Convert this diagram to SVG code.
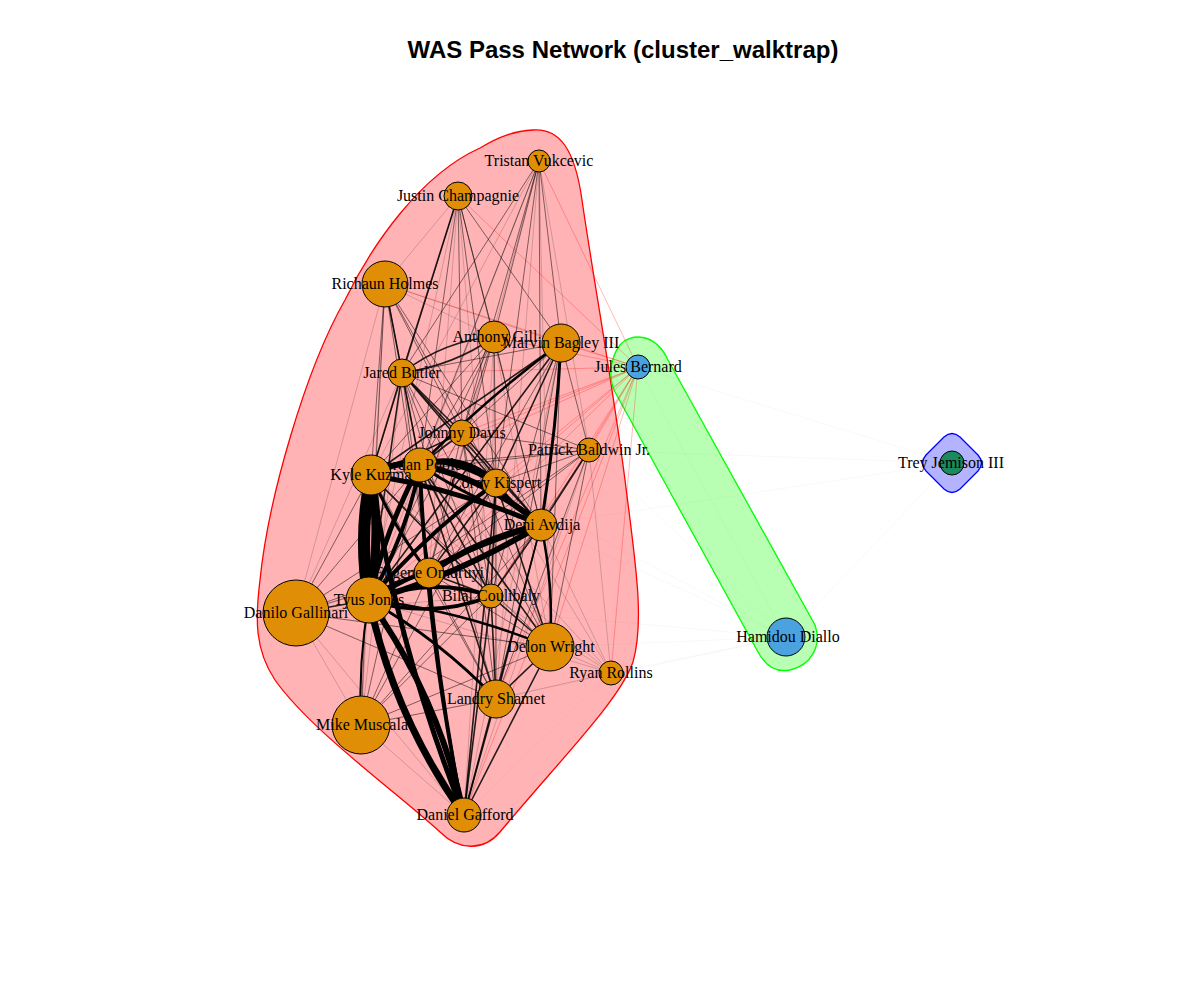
<svg xmlns="http://www.w3.org/2000/svg" width="1200" height="1000" viewBox="0 0 1200 1000">
<style>
.bg{fill:#fff}
.title{font-family:"Liberation Sans",Arial,sans-serif;font-weight:bold;font-size:24px;text-anchor:middle;fill:#000}
.lbl{font-family:"Liberation Serif","Times New Roman",serif;font-size:16px;text-anchor:middle;fill:#000}
.n{stroke:#000;stroke-width:1}
.c1{fill:#DF8E06}.c2{fill:#4AA3DF}.c3{fill:#1C8A5E}
#edges line,#edges path{fill:none;stroke-linecap:round}
.t1{stroke:#000;stroke-opacity:.22;stroke-width:.8}
.t2{stroke:#000;stroke-opacity:.5;stroke-width:1}
.t3{stroke:#000;stroke-opacity:.85;stroke-width:1.6}
.r1{stroke:#f00;stroke-opacity:.3;stroke-width:.9}
.f{stroke:#000;stroke-opacity:.04;stroke-width:.8}
.k{stroke:#000}
</style>
<rect class="bg" x="0" y="0" width="1200" height="1000"/>
<text class="title" x="623" y="58">WAS Pass Network (cluster_walktrap)</text>
<g id="hulls">
<path d="M533,130 C560,128 575,150 582,200 C592,270 612,380 625,480 C635,560 645,620 633,662 C620,700 560,760 500,832 C485,850 460,852 440,832 C400,795 310,730 275,680 C255,650 255,620 260,580 C268,500 305,370 345,300 C372,245 420,175 480,148 C500,136 515,131 533,130 Z" fill="#FFB3B5" stroke="#FF0000" stroke-width="1.3"/>
<path d="M620,345 C630,333 655,332 668,360 L815,625 C822,645 812,665 790,670 C775,673 765,665 758,652 L615,392 C608,378 610,358 620,345 Z" fill="#B8FFB3" stroke="#00FF00" stroke-width="1.3"/>
<path d="M944,437 Q952,430 960,437 L978,455 Q985,463 978,471 L960,489 Q952,496 944,489 L926,471 Q919,463 926,455 Z" fill="#B3B3FF" stroke="#0000FF" stroke-width="1.3"/>
</g>
<g id="edges">
<line class="f" x1="952" y1="463" x2="638" y2="367"/>
<line class="f" x1="952" y1="463" x2="589" y2="450"/>
<line class="f" x1="952" y1="463" x2="541" y2="525"/>
<line class="f" x1="952" y1="463" x2="786" y2="637"/>
<line class="f" x1="786" y1="637" x2="541" y2="525"/>
<line class="f" x1="786" y1="637" x2="550" y2="647"/>
<line class="f" x1="786" y1="637" x2="589" y2="450"/>
<line class="f" x1="786" y1="637" x2="496" y2="483"/>
<line class="f" x1="786" y1="637" x2="496" y2="699"/>
<line class="f" x1="786" y1="637" x2="611" y2="673"/>
<line class="f" x1="786" y1="637" x2="638" y2="367"/>
<line class="f" x1="786" y1="637" x2="369" y2="600"/>
<line class="f" x1="611" y1="673" x2="464" y2="815"/>
<line class="r1" x1="638" y1="367" x2="561" y2="343"/>
<line class="r1" x1="638" y1="367" x2="494" y2="337"/>
<line class="r1" x1="638" y1="367" x2="402" y2="373"/>
<line class="r1" x1="638" y1="367" x2="462" y2="433"/>
<line class="r1" x1="638" y1="367" x2="589" y2="450"/>
<line class="r1" x1="638" y1="367" x2="420" y2="465"/>
<line class="r1" x1="638" y1="367" x2="371" y2="475"/>
<line class="r1" x1="638" y1="367" x2="496" y2="483"/>
<line class="r1" x1="638" y1="367" x2="541" y2="525"/>
<line class="r1" x1="638" y1="367" x2="369" y2="600"/>
<line class="r1" x1="638" y1="367" x2="550" y2="647"/>
<line class="r1" x1="638" y1="367" x2="611" y2="673"/>
<line class="r1" x1="638" y1="367" x2="539" y2="161"/>
<line class="r1" x1="638" y1="367" x2="458" y2="196"/>
<line class="r1" x1="638" y1="367" x2="385" y2="284"/>
<line class="r1" x1="638" y1="367" x2="429" y2="573"/>
<line class="r1" x1="638" y1="367" x2="491" y2="596"/>
<line class="r1" x1="638" y1="367" x2="496" y2="699"/>
<line class="r1" x1="638" y1="367" x2="464" y2="815"/>
<line class="t2" x1="539" y1="161" x2="402" y2="373"/>
<line class="t2" x1="539" y1="161" x2="462" y2="433"/>
<line class="t2" x1="539" y1="161" x2="420" y2="465"/>
<line class="t1" x1="539" y1="161" x2="371" y2="475"/>
<line class="t2" x1="539" y1="161" x2="496" y2="483"/>
<line class="t2" x1="539" y1="161" x2="541" y2="525"/>
<line class="t1" x1="539" y1="161" x2="369" y2="600"/>
<line class="t2" x1="539" y1="161" x2="561" y2="343"/>
<line class="t2" x1="539" y1="161" x2="494" y2="337"/>
<line class="t1" x1="539" y1="161" x2="550" y2="647"/>
<line class="t1" x1="539" y1="161" x2="429" y2="573"/>
<line class="t1" x1="539" y1="161" x2="496" y2="699"/>
<line class="t1" x1="539" y1="161" x2="589" y2="450"/>
<line class="t3" x1="458" y1="196" x2="402" y2="373"/>
<line class="t2" x1="458" y1="196" x2="462" y2="433"/>
<line class="t2" x1="458" y1="196" x2="420" y2="465"/>
<line class="t2" x1="458" y1="196" x2="371" y2="475"/>
<line class="t2" x1="458" y1="196" x2="496" y2="483"/>
<line class="t2" x1="458" y1="196" x2="541" y2="525"/>
<line class="t1" x1="458" y1="196" x2="369" y2="600"/>
<line class="t2" x1="458" y1="196" x2="494" y2="337"/>
<line class="t2" x1="458" y1="196" x2="561" y2="343"/>
<line class="t1" x1="458" y1="196" x2="429" y2="573"/>
<line class="t1" x1="458" y1="196" x2="491" y2="596"/>
<line class="t1" x1="458" y1="196" x2="385" y2="284"/>
<line class="t3" x1="385" y1="284" x2="402" y2="373"/>
<line class="t2" x1="385" y1="284" x2="371" y2="475"/>
<line class="t2" x1="385" y1="284" x2="420" y2="465"/>
<line class="t2" x1="385" y1="284" x2="462" y2="433"/>
<line class="t2" x1="385" y1="284" x2="369" y2="600"/>
<line class="t1" x1="385" y1="284" x2="296" y2="613"/>
<line class="t2" x1="385" y1="284" x2="496" y2="483"/>
<line class="t2" x1="385" y1="284" x2="541" y2="525"/>
<line class="t1" x1="385" y1="284" x2="494" y2="337"/>
<line class="t1" x1="385" y1="284" x2="561" y2="343"/>
<line class="t1" x1="385" y1="284" x2="361" y2="725"/>
<line class="t2" x1="385" y1="284" x2="429" y2="573"/>
<path class="t3" d="M494,337 Q445,340 402,373"/>
<path class="t3" d="M494,337 Q455,365 402,373"/>
<line class="t2" x1="494" y1="337" x2="462" y2="433"/>
<line class="t2" x1="494" y1="337" x2="420" y2="465"/>
<line class="t2" x1="494" y1="337" x2="371" y2="475"/>
<line class="t2" x1="494" y1="337" x2="496" y2="483"/>
<line class="t2" x1="494" y1="337" x2="541" y2="525"/>
<line class="t2" x1="494" y1="337" x2="369" y2="600"/>
<line class="t1" x1="494" y1="337" x2="550" y2="647"/>
<line class="t1" x1="494" y1="337" x2="496" y2="699"/>
<line class="t1" x1="494" y1="337" x2="491" y2="596"/>
<line class="t2" x1="494" y1="337" x2="429" y2="573"/>
<line class="t1" x1="494" y1="337" x2="464" y2="815"/>
<line class="t2" x1="561" y1="343" x2="402" y2="373"/>
<line class="t2" x1="561" y1="343" x2="462" y2="433"/>
<line class="t3" x1="561" y1="343" x2="371" y2="475"/>
<line class="t3" x1="561" y1="343" x2="496" y2="483"/>
<line class="t3" x1="561" y1="343" x2="369" y2="600"/>
<line class="t2" x1="561" y1="343" x2="429" y2="573"/>
<line class="t2" x1="561" y1="343" x2="491" y2="596"/>
<line class="t2" x1="561" y1="343" x2="550" y2="647"/>
<line class="t2" x1="561" y1="343" x2="496" y2="699"/>
<line class="t1" x1="561" y1="343" x2="464" y2="815"/>
<line class="t2" x1="561" y1="343" x2="589" y2="450"/>
<line class="t3" x1="402" y1="373" x2="462" y2="433"/>
<line class="t3" x1="402" y1="373" x2="420" y2="465"/>
<line class="t3" x1="402" y1="373" x2="371" y2="475"/>
<line class="t3" x1="402" y1="373" x2="496" y2="483"/>
<line class="t3" x1="402" y1="373" x2="541" y2="525"/>
<line class="t3" x1="402" y1="373" x2="369" y2="600"/>
<line class="t2" x1="402" y1="373" x2="429" y2="573"/>
<line class="t2" x1="402" y1="373" x2="491" y2="596"/>
<line class="t2" x1="402" y1="373" x2="550" y2="647"/>
<line class="t2" x1="402" y1="373" x2="496" y2="699"/>
<line class="t2" x1="402" y1="373" x2="589" y2="450"/>
<line class="t1" x1="402" y1="373" x2="361" y2="725"/>
<line class="t1" x1="402" y1="373" x2="296" y2="613"/>
<line class="t3" x1="462" y1="433" x2="420" y2="465"/>
<line class="t3" x1="462" y1="433" x2="371" y2="475"/>
<line class="t2" x1="462" y1="433" x2="496" y2="483"/>
<line class="t3" x1="462" y1="433" x2="541" y2="525"/>
<line class="t2" x1="462" y1="433" x2="369" y2="600"/>
<line class="t2" x1="462" y1="433" x2="589" y2="450"/>
<line class="t2" x1="462" y1="433" x2="550" y2="647"/>
<line class="t2" x1="462" y1="433" x2="429" y2="573"/>
<line class="t2" x1="462" y1="433" x2="491" y2="596"/>
<line class="t2" x1="462" y1="433" x2="496" y2="699"/>
<line class="t2" x1="589" y1="450" x2="420" y2="465"/>
<line class="t2" x1="589" y1="450" x2="371" y2="475"/>
<line class="t2" x1="589" y1="450" x2="496" y2="483"/>
<line class="t3" x1="589" y1="450" x2="541" y2="525"/>
<line class="t2" x1="589" y1="450" x2="369" y2="600"/>
<line class="t2" x1="589" y1="450" x2="550" y2="647"/>
<line class="t2" x1="589" y1="450" x2="496" y2="699"/>
<line class="t1" x1="589" y1="450" x2="611" y2="673"/>
<line class="t2" x1="589" y1="450" x2="429" y2="573"/>
<line class="t2" x1="589" y1="450" x2="491" y2="596"/>
<line class="t1" x1="589" y1="450" x2="464" y2="815"/>
<line class="t2" x1="296" y1="613" x2="371" y2="475"/>
<line class="t2" x1="296" y1="613" x2="420" y2="465"/>
<line class="t3" x1="296" y1="613" x2="369" y2="600"/>
<line class="t1" x1="296" y1="613" x2="361" y2="725"/>
<line class="t2" x1="296" y1="613" x2="429" y2="573"/>
<line class="t2" x1="296" y1="613" x2="541" y2="525"/>
<line class="t2" x1="296" y1="613" x2="496" y2="483"/>
<line class="t2" x1="296" y1="613" x2="496" y2="699"/>
<line class="t2" x1="296" y1="613" x2="550" y2="647"/>
<line class="t1" x1="296" y1="613" x2="491" y2="596"/>
<line class="t1" x1="296" y1="613" x2="464" y2="815"/>
<line class="t2" x1="361" y1="725" x2="371" y2="475"/>
<line class="t2" x1="361" y1="725" x2="420" y2="465"/>
<line class="t2" x1="361" y1="725" x2="429" y2="573"/>
<line class="t2" x1="361" y1="725" x2="541" y2="525"/>
<line class="t2" x1="361" y1="725" x2="496" y2="699"/>
<line class="t2" x1="361" y1="725" x2="550" y2="647"/>
<line class="t2" x1="361" y1="725" x2="496" y2="483"/>
<line class="t2" x1="361" y1="725" x2="491" y2="596"/>
<line class="t1" x1="361" y1="725" x2="464" y2="815"/>
<line class="t2" x1="550" y1="647" x2="371" y2="475"/>
<line class="t3" x1="550" y1="647" x2="420" y2="465"/>
<line class="t3" x1="550" y1="647" x2="496" y2="483"/>
<line class="t2" x1="550" y1="647" x2="429" y2="573"/>
<line class="t3" x1="550" y1="647" x2="491" y2="596"/>
<line class="t3" x1="550" y1="647" x2="496" y2="699"/>
<line class="t3" x1="550" y1="647" x2="464" y2="815"/>
<line class="t1" x1="550" y1="647" x2="611" y2="673"/>
<line class="t2" x1="496" y1="699" x2="371" y2="475"/>
<line class="t3" x1="496" y1="699" x2="420" y2="465"/>
<line class="t2" x1="496" y1="699" x2="496" y2="483"/>
<line class="t3" x1="496" y1="699" x2="541" y2="525"/>
<line class="t2" x1="496" y1="699" x2="429" y2="573"/>
<line class="t3" x1="496" y1="699" x2="491" y2="596"/>
<line class="t3" x1="496" y1="699" x2="464" y2="815"/>
<line class="t1" x1="496" y1="699" x2="611" y2="673"/>
<line class="t1" x1="611" y1="673" x2="541" y2="525"/>
<line class="t1" x1="611" y1="673" x2="496" y2="483"/>
<line class="t1" x1="611" y1="673" x2="420" y2="465"/>
<line class="t1" x1="611" y1="673" x2="371" y2="475"/>
<line class="t1" x1="611" y1="673" x2="369" y2="600"/>
<line class="t1" x1="611" y1="673" x2="491" y2="596"/>
<line class="t3" x1="491" y1="596" x2="371" y2="475"/>
<line class="t3" x1="491" y1="596" x2="420" y2="465"/>
<line class="t3" x1="491" y1="596" x2="496" y2="483"/>
<line class="t3" x1="491" y1="596" x2="541" y2="525"/>
<line class="t3" x1="491" y1="596" x2="429" y2="573"/>
<line class="t3" x1="491" y1="596" x2="464" y2="815"/>
<line class="t3" x1="496" y1="483" x2="464" y2="815"/>
<line class="t3" x1="496" y1="483" x2="429" y2="573"/>
<line class="t3" x1="541" y1="525" x2="464" y2="815"/>
<path class="k" stroke-width="12" d="M371,475 Q358,537 369,600"/>
<path class="k" stroke-width="9" d="M371,475 Q382,537 369,600"/>
<path class="k" stroke-width="7" d="M369,600 Q394,717 464,815"/>
<path class="k" stroke-width="6" d="M369,600 Q439,698 464,815"/>
<path class="k" stroke-width="5" d="M371,475 Q398,650 464,815"/>
<path class="k" stroke-width="3.5" d="M420,465 Q427,642 464,815"/>
<path class="k" stroke-width="2.5" d="M429,573 Q440,695 464,815"/>
<path class="k" stroke-width="6" d="M369,600 Q452,578 541,525"/>
<path class="k" stroke-width="4" d="M369,600 Q458,550 541,525"/>
<path class="k" stroke-width="4" d="M369,600 Q430,576 491,596"/>
<path class="k" stroke-width="3.5" d="M369,600 Q430,620 491,596"/>
<path class="k" stroke-width="4" d="M369,600 Q395,580 429,573"/>
<path class="k" stroke-width="5" d="M369,600 Q385,530 420,465"/>
<path class="k" stroke-width="4" d="M369,600 Q407,535 420,465"/>
<path class="k" stroke-width="4" d="M369,600 Q430,530 496,483"/>
<path class="k" stroke-width="3" d="M369,600 Q440,640 496,699"/>
<path class="k" stroke-width="2.5" d="M369,600 Q460,610 550,647"/>
<path class="k" stroke-width="6" d="M371,475 Q395,460 420,465"/>
<path class="k" stroke-width="5" d="M371,475 Q430,443 496,483"/>
<path class="k" stroke-width="5" d="M371,475 Q460,490 541,525"/>
<path class="k" stroke-width="6" d="M420,465 Q462,452 496,483"/>
<path class="k" stroke-width="6" d="M420,465 Q485,478 541,525"/>
<path class="k" stroke-width="3" d="M420,465 Q475,502 541,525"/>
<path class="k" stroke-width="6" d="M429,573 Q480,538 541,525"/>
<path class="k" stroke-width="3" d="M371,475 Q395,530 429,573"/>
<path class="k" stroke-width="3" d="M420,465 Q420,520 429,573"/>
<path class="k" stroke-width="3" d="M496,483 Q515,508 541,525"/>
<path class="k" stroke-width="3" d="M561,343 Q556,435 541,525"/>
<path class="k" stroke-width="2.5" d="M561,343 Q490,395 420,465"/>
<path class="k" stroke-width="2" d="M369,600 Q358,662 361,725"/>
<path class="k" stroke-width="2.5" d="M541,525 Q554,585 550,647"/>
</g>
<g id="node-tristan-vukcevic"><circle class="n c1" cx="539" cy="161" r="11"/><text class="lbl" x="539" y="166">Tristan Vukcevic</text></g>
<g id="node-justin-champagnie"><circle class="n c1" cx="458" cy="196" r="14"/><text class="lbl" x="458" y="201">Justin Champagnie</text></g>
<g id="node-richaun-holmes"><circle class="n c1" cx="385" cy="284" r="23"/><text class="lbl" x="385" y="289">Richaun Holmes</text></g>
<g id="node-anthony-gill"><circle class="n c1" cx="494" cy="337" r="16"/><text class="lbl" x="495" y="342">Anthony Gill</text></g>
<g id="node-marvin-bagley"><circle class="n c1" cx="561" cy="343" r="19"/><text class="lbl" x="561" y="348">Marvin Bagley III</text></g>
<g id="node-jared-butler"><circle class="n c1" cx="402" cy="373" r="14"/><text class="lbl" x="402" y="378">Jared Butler</text></g>
<g id="node-johnny-davis"><circle class="n c1" cx="462" cy="433" r="13"/><text class="lbl" x="462" y="438">Johnny Davis</text></g>
<g id="node-patrick-baldwin"><circle class="n c1" cx="589" cy="450" r="12"/><text class="lbl" x="589" y="455">Patrick Baldwin Jr.</text></g>
<g id="node-jordan-poole"><circle class="n c1" cx="420" cy="465" r="17"/><text class="lbl" x="420" y="470">Jordan Poole</text></g>
<g id="node-kyle-kuzma"><circle class="n c1" cx="371" cy="475" r="20"/><text class="lbl" x="371" y="480">Kyle Kuzma</text></g>
<g id="node-corey-kispert"><circle class="n c1" cx="496" cy="483" r="14"/><text class="lbl" x="496" y="488">Corey Kispert</text></g>
<g id="node-deni-avdija"><circle class="n c1" cx="541" cy="525" r="16"/><text class="lbl" x="542" y="530">Deni Avdija</text></g>
<g id="node-eugene-omoruyi"><circle class="n c1" cx="429" cy="573" r="15"/><text class="lbl" x="429" y="578">Eugene Omoruyi</text></g>
<g id="node-bilal-coulibaly"><circle class="n c1" cx="491" cy="596" r="12"/><text class="lbl" x="491" y="601">Bilal Coulibaly</text></g>
<g id="node-tyus-jones"><circle class="n c1" cx="369" cy="600" r="23"/><text class="lbl" x="369" y="605">Tyus Jones</text></g>
<g id="node-danilo-gallinari"><circle class="n c1" cx="296" cy="613" r="33"/><text class="lbl" x="296" y="618">Danilo Gallinari</text></g>
<g id="node-delon-wright"><circle class="n c1" cx="550" cy="647" r="24"/><text class="lbl" x="551" y="652">Delon Wright</text></g>
<g id="node-ryan-rollins"><circle class="n c1" cx="611" cy="673" r="12"/><text class="lbl" x="611" y="678">Ryan Rollins</text></g>
<g id="node-landry-shamet"><circle class="n c1" cx="496" cy="699" r="19"/><text class="lbl" x="496" y="704">Landry Shamet</text></g>
<g id="node-mike-muscala"><circle class="n c1" cx="361" cy="725" r="29"/><text class="lbl" x="362" y="730">Mike Muscala</text></g>
<g id="node-daniel-gafford"><circle class="n c1" cx="464" cy="815" r="17"/><text class="lbl" x="465" y="820">Daniel Gafford</text></g>
<g id="node-jules-bernard"><circle class="n c2" cx="638" cy="367" r="12"/><text class="lbl" x="638" y="372">Jules Bernard</text></g>
<g id="node-hamidou-diallo"><circle class="n c2" cx="786" cy="637" r="19"/><text class="lbl" x="788" y="642">Hamidou Diallo</text></g>
<g id="node-trey-jemison"><circle class="n c3" cx="952" cy="463" r="12"/><text class="lbl" x="951" y="468">Trey Jemison III</text></g>
</svg>
